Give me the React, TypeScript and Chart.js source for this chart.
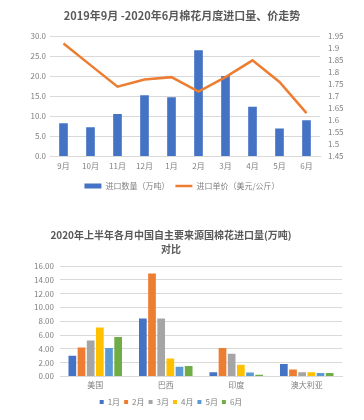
import React, { useEffect, useRef } from "react";
import { Chart, registerables } from "chart.js";

Chart.register(...registerables);

// ---- Chart 1 data ----
const trendTitle = "2019年9月 -2020年6月棉花月度进口量、价走势";
const trendMonths = ["9月", "10月", "11月", "12月", "1月", "2月", "3月", "4月", "5月", "6月"];
const importVolume = [8.3, 7.3, 10.6, 15.3, 14.8, 26.5, 20.1, 12.4, 7.0, 9.0];
const importPrice = [1.92, 1.83, 1.74, 1.77, 1.78, 1.72, 1.78, 1.85, 1.76, 1.63];
const volumeLabel = "进口数量（万吨）";
const priceLabel = "进口单价（美元/公斤）";
const volumeTicks = [0, 5, 10, 15, 20, 25, 30];
const priceTicks = [1.45, 1.5, 1.55, 1.6, 1.65, 1.7, 1.75, 1.8, 1.85, 1.9, 1.95];

// ---- Chart 2 data ----
const sourceTitle = ["2020年上半年各月中国自主要来源国棉花进口量(万吨)", "对比"];
const countries = ["美国", "巴西", "印度", "澳大利亚"];
const sourceMonths = ["1月", "2月", "3月", "4月", "5月", "6月"];
const jan = [3.0, 8.4, 0.6, 1.8];
const feb = [4.2, 14.9, 4.1, 1.0];
const mar = [5.2, 8.4, 3.3, 0.6];
const apr = [7.1, 2.6, 1.7, 0.6];
const may = [4.1, 1.4, 0.55, 0.5];
const jun = [5.7, 1.5, 0.25, 0.5];
const sourceTicks = [0, 2, 4, 6, 8, 10, 12, 14, 16];

const FONT = '"Noto Sans CJK SC", "Noto Sans", sans-serif';
const TICK = "#7f7f7f";
const GRID = "#d9d9d9";
const TITLE = "#595959";
const monthColors = ["#4472C4", "#ED7D31", "#A5A5A5", "#FFC000", "#5B9BD5", "#70AD47"];

export default function App() {
  const ref1 = useRef<HTMLCanvasElement>(null);
  const ref2 = useRef<HTMLCanvasElement>(null);

  useEffect(() => {
    const c1 = new Chart(ref1.current as HTMLCanvasElement, {
      type: "bar",
      data: {
        labels: trendMonths,
        datasets: [
          {
            type: "bar",
            label: volumeLabel,
            data: importVolume,
            backgroundColor: "#4472C4",
            borderWidth: 0,
            yAxisID: "y",
            order: 2,
            barPercentage: 0.32,
            categoryPercentage: 1,
            pointStyle: "rect",
          } as any,
          {
            type: "line",
            label: priceLabel,
            data: importPrice,
            borderColor: "#ED7D31",
            backgroundColor: "#ED7D31",
            borderWidth: 2.5,
            pointRadius: 0,
            tension: 0,
            yAxisID: "y1",
            order: 1,
            pointStyle: "line",
          } as any,
        ],
      },
      options: {
        responsive: false,
        animation: false,
        devicePixelRatio: 1,
        layout: { padding: { left: 0, right: 0, top: 0, bottom: 0 } },
        plugins: {
          title: {
            display: true,
            text: trendTitle,
            color: TITLE,
            font: { family: FONT, size: 11, weight: "bold", lineHeight: 1.3 },
            padding: { top: 9, bottom: 13 },
          },
          legend: {
            position: "bottom",
            labels: {
              usePointStyle: true,
              pointStyleWidth: 17,
              boxHeight: 5,
              color: TICK,
              font: { family: FONT, size: 8 },
              padding: 6,
              sort: (a: any, b: any) => a.datasetIndex - b.datasetIndex,
            },
          },
          tooltip: { enabled: false },
        },
        scales: {
          x: {
            grid: { display: false, drawTicks: false },
            border: { display: true, color: GRID },
            ticks: { color: TICK, font: { family: FONT, size: 8 }, padding: 5 },
          },
          y: {
            position: "left",
            min: 0,
            max: 30,
            afterFit: (s: any) => { s.width = 50; },
            afterBuildTicks: (s: any) => { s.ticks = volumeTicks.map((v) => ({ value: v })); },
            grid: { color: GRID, drawTicks: false },
            border: { display: false },
            ticks: {
              color: TICK,
              font: { family: FONT, size: 8 },
              padding: 4,
              autoSkip: false,
              callback: (v: any) => Number(v).toFixed(1),
            },
          },
          y1: {
            position: "right",
            min: 1.45,
            max: 1.95,
            afterFit: (s: any) => { s.width = 44; },
            afterBuildTicks: (s: any) => { s.ticks = priceTicks.map((v) => ({ value: v })); },
            grid: { display: false, drawTicks: false },
            border: { display: false },
            ticks: {
              color: TICK,
              font: { family: FONT, size: 8 },
              padding: 8,
              autoSkip: false,
              callback: (v: any) => String(Number(Number(v).toFixed(2))),
            },
          },
        },
      } as any,
    });

    const c2 = new Chart(ref2.current as HTMLCanvasElement, {
      type: "bar",
      data: {
        labels: countries,
        datasets: [jan, feb, mar, apr, may, jun].map((d, i) => ({
          label: sourceMonths[i],
          data: d,
          backgroundColor: monthColors[i],
          borderWidth: 0,
          barPercentage: 0.84,
          categoryPercentage: 0.78,
        })),
      },
      options: {
        responsive: false,
        animation: false,
        devicePixelRatio: 1,
        layout: { padding: { left: 0, right: 22, top: 0, bottom: 4 } },
        plugins: {
          title: {
            display: true,
            text: sourceTitle,
            color: TITLE,
            font: { family: FONT, size: 10, weight: "bold", lineHeight: 1.4 },
            padding: { top: 28, bottom: 10 },
          },
          legend: {
            position: "bottom",
            labels: {
              boxWidth: 4,
              boxHeight: 4,
              color: TICK,
              font: { family: FONT, size: 8 },
              padding: 4,
            },
          },
          tooltip: { enabled: false },
        },
        scales: {
          x: {
            grid: { display: false, drawTicks: false },
            border: { display: true, color: GRID },
            ticks: { color: TICK, font: { family: FONT, size: 8 }, padding: 4 },
          },
          y: {
            min: 0,
            max: 16,
            afterFit: (s: any) => { s.width = 60; },
            afterBuildTicks: (s: any) => { s.ticks = sourceTicks.map((v) => ({ value: v })); },
            grid: { color: GRID, drawTicks: false },
            border: { display: false },
            ticks: {
              color: TICK,
              font: { family: FONT, size: 8 },
              padding: 6,
              autoSkip: false,
              callback: (v: any) => Number(v).toFixed(2),
            },
          },
        },
      } as any,
    });

    return () => {
      c1.destroy();
      c2.destroy();
    };
  }, []);

  return (
    <div style={{ position: "absolute", left: 0, top: 0, width: 364, height: 420, background: "#fff" }}>
      <canvas ref={ref1} width={364} height={200} style={{ position: "absolute", left: 0, top: 0, width: 364, height: 200 }} />
      <canvas ref={ref2} width={364} height={220} style={{ position: "absolute", left: 0, top: 200, width: 364, height: 220 }} />
    </div>
  );
}
